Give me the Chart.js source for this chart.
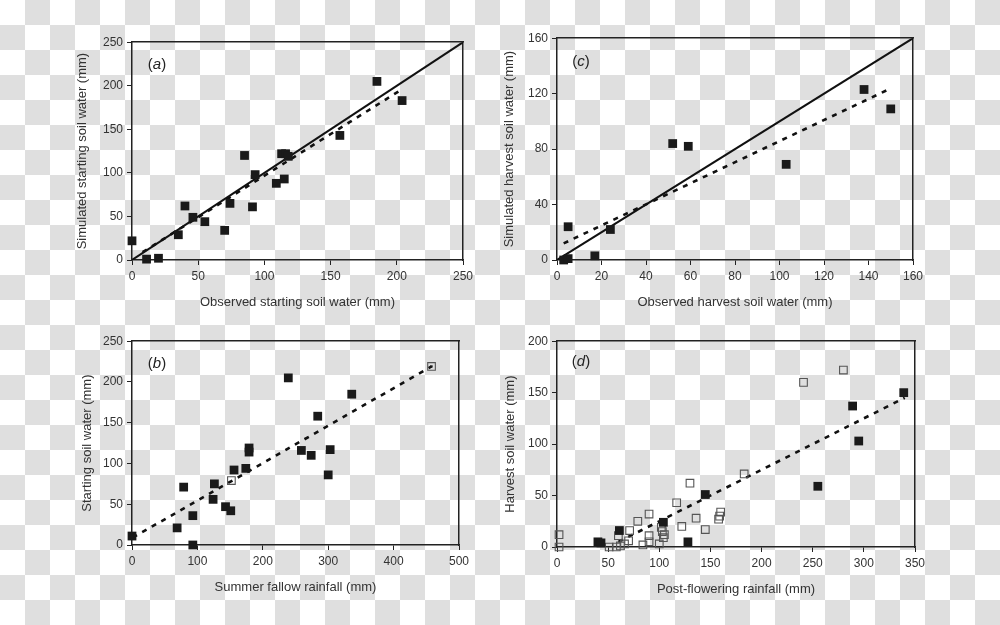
<!DOCTYPE html>
<html lang="en">
<head>
  <meta charset="UTF-8">
  <script src="https://cdn.jsdelivr.net/npm/chart.js"></script>
  <title>Soil water panels</title>
  <style>
    html, body{margin: 0; padding: 0;}
    body{width: 1000px; height: 625px; position: relative; overflow: hidden;
      background: repeating-conic-gradient(#dfdfdf 0 25%, #ffffff 0 50%) 0 0 / 50px 50px;
      font-family: "Liberation Sans", Arial, Helvetica, sans-serif;}
    canvas{position: absolute;}
    .tag{position: absolute; font-size: 15px; color: #222; transform: translate(-50%, -50%);}
  </style>
</head>
<body>
  <canvas id="chartA" width="406" height="281" style="left:72px; top:31px;"></canvas>
  <canvas id="chartC" width="431" height="285" style="left:497px; top:27px;"></canvas>
  <canvas id="chartB" width="402" height="267" style="left:72px; top:330px;"></canvas>
  <canvas id="chartD" width="433" height="269" style="left:497px; top:330px;"></canvas>
  <div class="tag" style="left:157px; top:63px;">(<i>a</i>)</div>
  <div class="tag" style="left:581px; top:60px;">(<i>c</i>)</div>
  <div class="tag" style="left:157px; top:362px;">(<i>b</i>)</div>
  <div class="tag" style="left:581px; top:360px;">(<i>d</i>)</div>
  <script>
    // (a) observed vs simulated starting soil water (mm)
    const aObs = [0, 11, 20, 35, 40, 46, 55, 70, 74, 85, 91, 93, 109, 115, 113, 116, 118, 157, 185, 204];
    const aSim = [22, 1, 2, 29, 62, 49, 44, 34, 65, 120, 61, 98, 88, 93, 122, 122, 119, 143, 205, 183];
    const aFitX = [8, 205];
    const aFitY = [9, 197];

    // (c) observed vs simulated harvest soil water (mm)
    const cObs = [3, 5, 5, 17, 24, 52, 59, 103, 138, 150];
    const cSim = [0, 1, 24, 3, 22, 84, 82, 69, 123, 109];
    const cFitX = [3, 149];
    const cFitY = [12, 123];

    // (b) summer fallow rainfall vs starting soil water (mm)
    const bRain = [0, 69, 79, 93, 93, 124, 126, 143, 151, 156, 174, 179, 179, 239, 259, 274, 284, 300, 303, 336];
    const bSw = [11, 21, 71, 36, 0, 56, 75, 47, 42, 92, 94, 119, 114, 205, 116, 110, 158, 86, 117, 185];
    const bOpenRain = [152, 458];
    const bOpenSw = [79, 219];
    const bDotRain = [458];
    const bDotSw = [219];
    const bFitX = [1, 458];
    const bFitY = [9, 219];

    // (d) post-flowering rainfall vs harvest soil water (mm)
    const dRain = [40, 43, 61, 104, 128, 145, 255, 289, 295, 339];
    const dSw = [5, 4, 16, 24, 5, 51, 59, 137, 103, 150];
    const dOpenRain = [2, 2, 51, 58, 60, 62, 66, 70, 71, 79, 84, 90, 90, 90, 100, 102, 103, 104, 105, 117, 122, 130, 136, 145, 158, 159, 160, 183, 241, 280];
    const dOpenSw = [12, 0, 0, 0, 11, 1, 3, 6, 16, 25, 2, 32, 11, 5, 3, 19, 15, 9, 12, 43, 20, 62, 28, 17, 27, 30, 34, 71, 160, 172];
    const dFitX = [60, 340];
    const dFitY = [5, 145];

    const pts = (xs, ys) => xs.map((x, i) => ({x: x, y: ys[i]}));

    function filled(xs, ys){
      return {data: pts(xs, ys), pointStyle: 'rect', pointRadius: 6.2, backgroundColor: '#1a1a1a', borderWidth: 0, order: 0, clip: false};
    }
    function hollow(xs, ys){
      return {data: pts(xs, ys), pointStyle: 'rect', pointRadius: 5.4, backgroundColor: 'rgba(0,0,0,0)', borderColor: '#555', borderWidth: 1.1, order: 0, clip: false};
    }
    function line(xs, ys, dashed){
      return {data: pts(xs, ys), showLine: true, pointRadius: 0, borderColor: '#111',
        borderWidth: dashed ? 2.6 : 2, borderDash: dashed ? [5, 6] : [], order: 1};
    }

    function axes(xMax, xStep, yMax, yStep, xTitle, yTitle, yPad){
      const tickFont = {family: '"Liberation Sans", Arial, sans-serif', size: 12};
      const titleFont = {family: '"Liberation Sans", Arial, sans-serif', size: 13};
      return {
        x: {type: 'linear', position: 'bottom', min: 0, max: xMax,
          ticks: {stepSize: xStep, color: '#333', font: tickFont, padding: 4},
          grid: {display: true, drawOnChartArea: false, tickLength: 5, color: '#222'},
          border: {color: '#222', width: 1.5},
          title: {display: true, text: xTitle, color: '#333', font: titleFont, padding: {top: 0, bottom: 2}},
          afterFit: s => { s.height = 52; }},
        y: {type: 'linear', position: 'left', min: 0, max: yMax,
          ticks: {stepSize: yStep, color: '#333', font: tickFont, padding: 4},
          grid: {display: true, drawOnChartArea: false, tickLength: 5, color: '#222'},
          border: {color: '#222', width: 1.5},
          title: {display: true, text: yTitle, color: '#333', font: titleFont, padding: {top: yPad, bottom: 0}},
          afterFit: s => { s.width = 60; }},
        x2: {type: 'linear', position: 'top', min: 0, max: xMax,
          ticks: {display: false}, grid: {display: false},
          border: {color: '#222', width: 1.5},
          afterFit: s => { s.height = 0; }},
        y2: {type: 'linear', position: 'right', min: 0, max: yMax,
          ticks: {display: false}, grid: {display: false},
          border: {color: '#222', width: 1.5},
          afterFit: s => { s.width = 0; }}
      };
    }

    function panel(id, datasets, scales){
      new Chart(document.getElementById(id), {
        type: 'scatter',
        data: {datasets: datasets},
        options: {
          responsive: false,
          animation: false,
          events: [],
          layout: {padding: {top: 10, right: 15, left: 0, bottom: 0}},
          plugins: {legend: {display: false}, tooltip: {enabled: false}},
          scales: scales
        }
      });
    }

    panel('chartA', [
      filled(aObs, aSim),
      line([0, 250], [0, 250], false),
      line(aFitX, aFitY, true)
    ], axes(250, 50, 250, 50, 'Observed starting soil water (mm)', 'Simulated starting soil water (mm)', 3));

    panel('chartC', [
      filled(cObs, cSim),
      line([0, 160], [0, 160], false),
      line(cFitX, cFitY, true)
    ], axes(160, 20, 160, 40, 'Observed harvest soil water (mm)', 'Simulated harvest soil water (mm)', 5));

    panel('chartB', [
      filled(bRain, bSw),
      hollow(bOpenRain, bOpenSw),
      {data: pts(bDotRain, bDotSw), pointStyle: 'rect', pointRadius: 1.6, backgroundColor: '#1a1a1a', borderWidth: 0, order: 0, clip: false},
      line(bFitX, bFitY, true)
    ], axes(500, 100, 250, 50, 'Summer fallow rainfall (mm)', 'Starting soil water (mm)', 8));

    panel('chartD', [
      filled(dRain, dSw),
      hollow(dOpenRain, dOpenSw),
      line(dFitX, dFitY, true)
    ], axes(350, 50, 200, 50, 'Post-flowering rainfall (mm)', 'Harvest soil water (mm)', 6));
  </script>
</body>
</html>
